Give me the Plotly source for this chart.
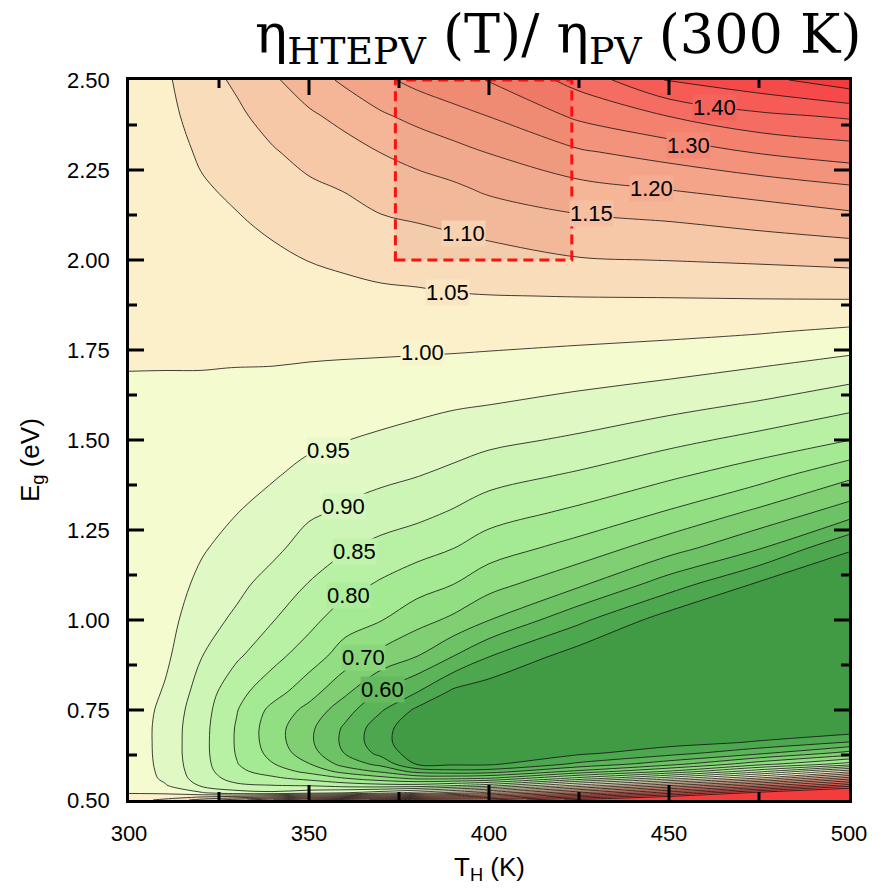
import plotly.graph_objects as go

# ---------------- data ----------------
T_K = [300, 310, 320, 330, 340, 350, 360, 370, 380, 390, 400, 425, 450, 475, 500]
Eg_eV = [0.50, 0.52, 0.54, 0.56, 0.58, 0.60, 0.63, 0.66, 0.70, 0.75, 0.80, 0.90,
         1.00, 1.10, 1.20, 1.30, 1.40, 1.50, 1.60, 1.70, 1.80, 1.90, 2.00, 2.10,
         2.20, 2.30, 2.40, 2.50]

# efficiency ratio eta_HTEPV(T)/eta_PV(300 K); one row per Eg value, columns follow T_K
ratio = [
    [1.030, 1.060, 1.120, 1.180, 1.250, 1.300, 1.330, 1.360, 1.380, 1.390, 1.400, 1.520, 1.620, 1.750, 1.900],
    [0.997, 0.990, 0.955, 0.920, 0.910, 0.930, 0.950, 0.980, 1.020, 1.070, 1.120, 1.250, 1.380, 1.520, 1.620],
    [0.992, 0.955, 0.895, 0.860, 0.852, 0.848, 0.830, 0.820, 0.822, 0.848, 0.880, 1.020, 1.150, 1.280, 1.430],
    [0.990, 0.940, 0.878, 0.830, 0.810, 0.785, 0.752, 0.720, 0.690, 0.690, 0.702, 0.820, 0.930, 1.060, 1.230],
    [0.989, 0.935, 0.872, 0.812, 0.775, 0.735, 0.680, 0.640, 0.580, 0.565, 0.570, 0.660, 0.752, 0.880, 1.030],
    [0.988, 0.932, 0.869, 0.802, 0.752, 0.702, 0.630, 0.585, 0.495, 0.490, 0.490, 0.560, 0.630, 0.730, 0.820],
    [0.987, 0.930, 0.867, 0.796, 0.733, 0.672, 0.598, 0.535, 0.470, 0.462, 0.460, 0.490, 0.530, 0.590, 0.669],
    [0.986, 0.930, 0.867, 0.794, 0.724, 0.660, 0.588, 0.518, 0.462, 0.455, 0.450, 0.465, 0.480, 0.505, 0.553],
    [0.986, 0.930, 0.868, 0.795, 0.722, 0.662, 0.592, 0.520, 0.465, 0.455, 0.450, 0.450, 0.460, 0.460, 0.460],
    [0.987, 0.935, 0.872, 0.802, 0.735, 0.685, 0.620, 0.555, 0.490, 0.465, 0.455, 0.445, 0.445, 0.445, 0.445],
    [0.988, 0.945, 0.880, 0.815, 0.770, 0.720, 0.660, 0.595, 0.551, 0.490, 0.470, 0.445, 0.440, 0.440, 0.435],
    [0.990, 0.960, 0.902, 0.857, 0.815, 0.775, 0.727, 0.685, 0.651, 0.601, 0.552, 0.475, 0.440, 0.435, 0.430],
    [0.991, 0.968, 0.922, 0.890, 0.852, 0.815, 0.772, 0.752, 0.718, 0.690, 0.651, 0.561, 0.475, 0.452, 0.435],
    [0.992, 0.974, 0.940, 0.913, 0.880, 0.848, 0.818, 0.794, 0.772, 0.751, 0.719, 0.659, 0.575, 0.493, 0.460],
    [0.993, 0.979, 0.955, 0.932, 0.912, 0.878, 0.855, 0.835, 0.818, 0.801, 0.774, 0.731, 0.671, 0.604, 0.505],
    [0.994, 0.984, 0.968, 0.951, 0.935, 0.908, 0.893, 0.877, 0.865, 0.846, 0.823, 0.790, 0.746, 0.690, 0.625],
    [0.995, 0.988, 0.978, 0.966, 0.953, 0.938, 0.918, 0.911, 0.901, 0.888, 0.869, 0.842, 0.808, 0.769, 0.710],
    [0.996, 0.992, 0.986, 0.978, 0.968, 0.958, 0.951, 0.943, 0.933, 0.922, 0.912, 0.892, 0.864, 0.835, 0.801],
    [0.998, 0.996, 0.993, 0.988, 0.980, 0.974, 0.969, 0.968, 0.963, 0.956, 0.951, 0.935, 0.917, 0.895, 0.866],
    [1.0002, 1.0003, 1.0005, 0.9998, 0.9993, 0.997, 0.995, 0.993, 0.991, 0.988, 0.985, 0.976, 0.965, 0.949, 0.928],
    [1.002, 1.005, 1.009, 1.011, 1.013, 1.015, 1.016, 1.017, 1.017, 1.018, 1.017, 1.014, 1.010, 1.003, 0.991],
    [1.004, 1.010, 1.018, 1.022, 1.027, 1.032, 1.037, 1.041, 1.043, 1.047, 1.049, 1.051, 1.052, 1.054, 1.056],
    [1.006, 1.015, 1.028, 1.034, 1.041, 1.051, 1.058, 1.066, 1.071, 1.076, 1.081, 1.097, 1.101, 1.106, 1.1125],
    [1.008, 1.020, 1.036, 1.045, 1.058, 1.071, 1.080, 1.092, 1.099, 1.107, 1.117, 1.136, 1.146, 1.160, 1.175],
    [1.010, 1.025, 1.045, 1.059, 1.077, 1.092, 1.103, 1.121, 1.131, 1.142, 1.159, 1.186, 1.203, 1.221, 1.243],
    [1.012, 1.030, 1.056, 1.075, 1.096, 1.116, 1.131, 1.151, 1.168, 1.185, 1.202, 1.244, 1.271, 1.304, 1.325],
    [1.014, 1.036, 1.069, 1.091, 1.119, 1.142, 1.165, 1.193, 1.214, 1.232, 1.251, 1.309, 1.351, 1.389, 1.407],
    [1.016, 1.042, 1.081, 1.108, 1.143, 1.177, 1.209, 1.240, 1.264, 1.284, 1.302, 1.368, 1.455, 1.485, 1.530],
]

# contour labels placed as in the picture
label_text = ["1.40", "1.30", "1.20", "1.15", "1.10", "1.05", "1.00",
              "0.95", "0.90", "0.85", "0.80", "0.70", "0.60"]
label_T = [462.5, 455.5, 445.0, 428.5, 393.0, 388.5, 381.5,
           355.5, 359.5, 362.5, 361.0, 365.0, 370.5]
label_Eg = [2.425, 2.319, 2.200, 2.130, 2.075, 1.911, 1.744,
            1.472, 1.314, 1.189, 1.069, 0.897, 0.806]

# axis ticks
x_major = [300, 350, 400, 450, 500]
x_minor = [325, 375, 425, 475]
y_major = [0.50, 0.75, 1.00, 1.25, 1.50, 1.75, 2.00, 2.25, 2.50]
y_minor = [0.625, 0.875, 1.125, 1.375, 1.625, 1.875, 2.125, 2.375]

# highlighted box (T range, Eg range)
box_T = [374, 423]
box_Eg = [2.00, 2.50]

# ---------------- styling ----------------
LV_START, LV_END, LV_SIZE = 0.50, 1.50, 0.05
band_colors = [
    "#409B44", "#4DA74E", "#5CB459", "#6DC265", "#80D073", "#92DE82",
    "#A4EA92", "#B8F1A4", "#CCF5B6", "#DFF8C4", "#F4FBCE", "#FCF0CB",
    "#F9DDBB", "#F6C8A8", "#F5B698", "#F4A489", "#F4937C", "#F4806E",
    "#F56D62", "#F65B56", "#F64A4A", "#F53C3C",
]
nb = len(band_colors) - 1
colorscale = [[i / nb, c] for i, c in enumerate(band_colors)]
PLOT_PX = 720.0


def hex2rgb(h):
    h = h.lstrip("#")
    return [int(h[i:i + 2], 16) for i in (0, 2, 4)]


def label_bg(txt):
    v = float(txt)
    j = int(round((v - LV_START) / LV_SIZE))
    a = hex2rgb(band_colors[j])
    b = hex2rgb(band_colors[j + 1])
    return "rgb(%d,%d,%d)" % tuple((a[k] + b[k]) // 2 for k in range(3))


fig = go.Figure()
fig.add_trace(go.Contour(
    x=T_K, y=Eg_eV, z=ratio,
    colorscale=colorscale, showscale=False,
    contours=dict(start=LV_START, end=LV_END, size=LV_SIZE,
                  coloring="fill", showlines=True),
    line=dict(color="#111111", width=0.8, smoothing=1.0),
    hoverinfo="skip",
))

fig.add_shape(type="rect", xref="x", yref="y",
              x0=box_T[0], x1=box_T[1], y0=box_Eg[0], y1=box_Eg[1],
              line=dict(color="#FF1010", width=3, dash="10px,6px"),
              fillcolor="rgba(200,60,40,0.10)", layer="above")

# inside ticks on all four sides (axis decoration)
TICK_LINE = dict(color="black", width=3)
for vals, ln in ((x_major, 15), (x_minor, 8)):
    for v in vals:
        if v in (300, 500):
            continue
        fig.add_shape(type="line", xref="x", yref="paper", x0=v, x1=v,
                      y0=0, y1=ln / PLOT_PX, line=TICK_LINE, layer="above")
        fig.add_shape(type="line", xref="x", yref="paper", x0=v, x1=v,
                      y0=1, y1=1 - ln / PLOT_PX, line=TICK_LINE, layer="above")
for vals, ln in ((y_major, 15), (y_minor, 8)):
    for v in vals:
        if v in (0.50, 2.50):
            continue
        fig.add_shape(type="line", xref="paper", yref="y", y0=v, y1=v,
                      x0=0, x1=ln / PLOT_PX, line=TICK_LINE, layer="above")
        fig.add_shape(type="line", xref="paper", yref="y", y0=v, y1=v,
                      x0=1, x1=1 - ln / PLOT_PX, line=TICK_LINE, layer="above")

LAB_FONT = dict(family="Liberation Sans, Arial, sans-serif", size=22, color="black")
for t, x, y in zip(label_text, label_T, label_Eg):
    fig.add_annotation(x=x, y=y, xref="x", yref="y", text=t, showarrow=False,
                       font=LAB_FONT, bgcolor=label_bg(t), borderpad=0)

TICK_FONT = dict(family="Liberation Sans, Arial, sans-serif", size=22, color="black")
axis_common = dict(showgrid=False, zeroline=False, showline=True, linewidth=2.5,
                   linecolor="black", mirror=True, ticks="", tickfont=TICK_FONT)

fig.update_xaxes(range=[300, 500], tickvals=x_major,
                 ticktext=[str(v) for v in x_major], ticklabelstandoff=12,
                 **axis_common)
fig.update_yaxes(range=[0.5, 2.5], tickvals=y_major,
                 ticktext=["%.2f" % v for v in y_major], ticklabelstandoff=12,
                 **axis_common)

TITLE_FONT = dict(family="Liberation Sans, Arial, sans-serif", size=26, color="black")
fig.add_annotation(xref="x", yref="paper", x=400, y=(800 - 868) / PLOT_PX,
                   text="T<sub>H</sub> (K)", showarrow=False, font=TITLE_FONT,
                   xanchor="center", yanchor="middle")
fig.add_annotation(xref="paper", yref="paper", x=(31 - 129) / PLOT_PX, y=(800 - 460) / PLOT_PX,
                   text="E<sub>g</sub> (eV)", showarrow=False, font=TITLE_FONT,
                   textangle=-90, xanchor="center", yanchor="middle")
fig.add_annotation(xref="paper", yref="paper", x=(864 - 129) / PLOT_PX, y=(800 - 38) / PLOT_PX,
                   text="η<sub>HTEPV</sub> (T)/ η<sub>PV</sub> (300 K)", showarrow=False,
                   font=dict(family="DejaVu Serif, Liberation Serif, serif", size=54, color="black"),
                   xanchor="right", yanchor="middle")

fig.update_layout(width=884, height=893, margin=dict(l=129, r=35, t=80, b=93),
                  paper_bgcolor="white", plot_bgcolor="white", showlegend=False)

fig.write_html("out.html")
